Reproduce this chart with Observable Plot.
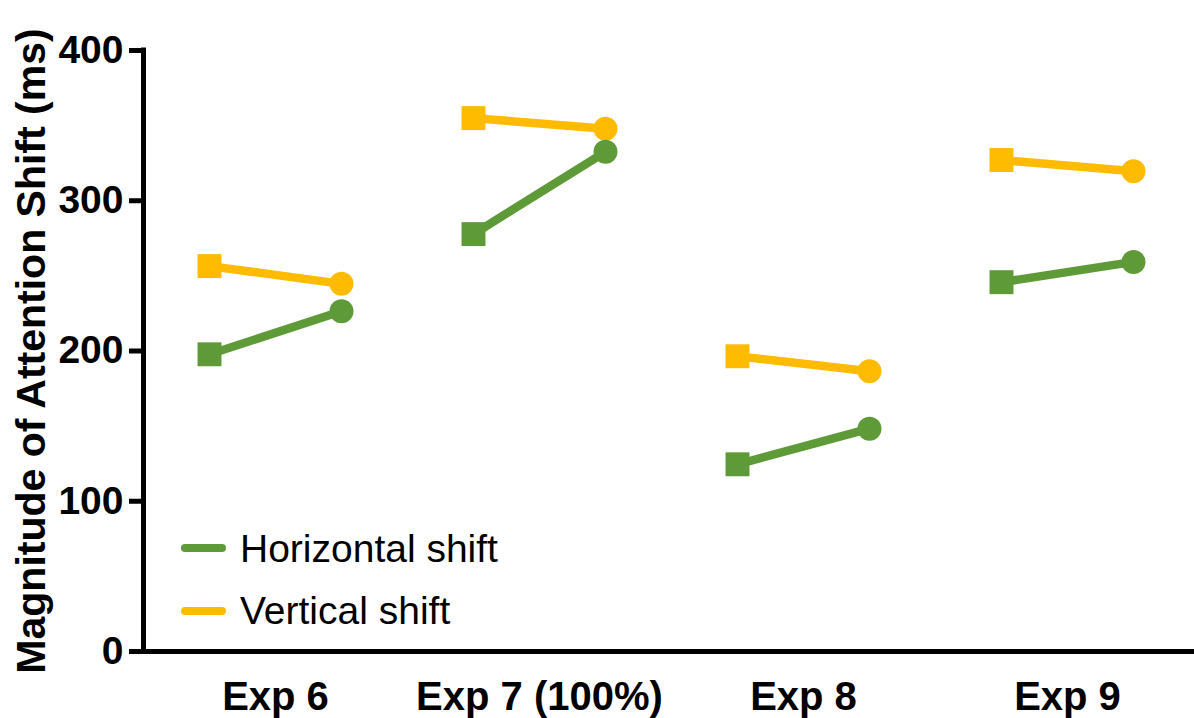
<!DOCTYPE html>
<html>
<head>
<meta charset="utf-8">
<script src="https://cdn.jsdelivr.net/npm/d3@7"></script>
<script src="https://cdn.jsdelivr.net/npm/@observablehq/plot@0.6"></script>
<style>
  html, body { margin: 0; padding: 0; background: #fff; overflow: hidden; }
  #wrap { position: relative; width: 1194px; height: 718px; font-family: "Liberation Sans", Arial, Helvetica, sans-serif; }
  #legend { position: absolute; left: 181px; top: 517px; }
  .item { display: flex; align-items: center; height: 62.5px; }
  .sw { width: 45px; height: 8px; border-radius: 4px; margin-right: 14px; }
  .lab { font-size: 39px; color: #000; line-height: 1; }
</style>
</head>
<body>
<div id="wrap"><div id="chart"></div><div id="legend"></div></div>
<script>
// ---- data ----
const experiments = ["Exp 6", "Exp 7 (100%)", "Exp 8", "Exp 9"];
const conditions = ["first", "second"];           // square marker, circle marker
const seriesNames = ["Horizontal shift", "Vertical shift"];
const seriesColors = ["#5e9a37", "#ffbb00"];
const horizontalFirst  = [197.8, 277.8, 124.6, 245.8];
const horizontalSecond = [226.5, 332.6, 148.3, 259.3];
const verticalFirst    = [256.5, 355.0, 196.5, 327.1];
const verticalSecond   = [244.7, 347.9, 186.5, 319.7];
const yTicks = [0, 100, 200, 300, 400];
const yLabel = "Magnitude of Attention Shift (ms)";

// ---- table ----
const seriesValues = {
  "Horizontal shift": [horizontalFirst, horizontalSecond],
  "Vertical shift": [verticalFirst, verticalSecond]
};
const rows = [];
// vertical drawn first so horizontal sits on top
["Vertical shift", "Horizontal shift"].forEach(s => {
  experiments.forEach((exp, i) => {
    conditions.forEach((c, k) => {
      rows.push({exp, series: s, cond: k, condName: c, value: seriesValues[s][k][i]});
    });
  });
});
const xDomain = [-0.5, 1.5];
const font = "'Liberation Sans', Arial, Helvetica, sans-serif";

const chart = Plot.plot({
  width: 1194,
  height: 718,
  marginTop: 50,
  marginBottom: 67,
  marginLeft: 143,
  marginRight: -5,
  style: {fontFamily: font, background: "white", color: "black"},
  fx: {domain: experiments, padding: 0, label: null},
  x: {domain: xDomain, axis: null},
  y: {domain: [0, 400]},
  color: {domain: seriesNames, range: seriesColors},
  marks: [
    Plot.ruleY([0], {stroke: "black", strokeWidth: 5}),
    Plot.ruleX([{exp: experiments[0], x: xDomain[0]}], {fx: "exp", x: "x", y1: 0, y2: 400, stroke: "black", strokeWidth: 5, strokeLinecap: "square"}),
    Plot.line(rows, {fx: "exp", x: "cond", y: "value", z: "series", stroke: "series", strokeWidth: 8.5}),
    Plot.dot(rows.filter(d => d.cond === 0), {fx: "exp", x: "cond", y: "value", symbol: "square", r: 13.5, fill: "series", stroke: "none"}),
    Plot.dot(rows.filter(d => d.cond === 1), {fx: "exp", x: "cond", y: "value", symbol: "circle", r: 12, fill: "series", stroke: "none"}),
    Plot.axisY({ticks: yTicks, tickSize: 14, tickPadding: 6, strokeWidth: 5, fontSize: 39, fontWeight: "bold", label: null}),
    Plot.axisY({ticks: [], fontSize: 41, fontWeight: "bold",
      label: yLabel, labelAnchor: "center", labelOffset: 128, labelArrow: "none"}),
    Plot.axisFx({anchor: "bottom", tickSize: 0, tickPadding: 30, fontSize: 40, fontWeight: "bold", label: null})
  ]
});
document.getElementById("chart").appendChild(chart);

// ---- legend ----
const legend = document.getElementById("legend");
seriesNames.forEach((s, i) => {
  const item = document.createElement("div");
  item.className = "item";
  const sw = document.createElement("div");
  sw.className = "sw";
  sw.style.background = seriesColors[i];
  const lab = document.createElement("span");
  lab.className = "lab";
  lab.textContent = s;
  item.appendChild(sw);
  item.appendChild(lab);
  legend.appendChild(item);
});
</script>
</body>
</html>
